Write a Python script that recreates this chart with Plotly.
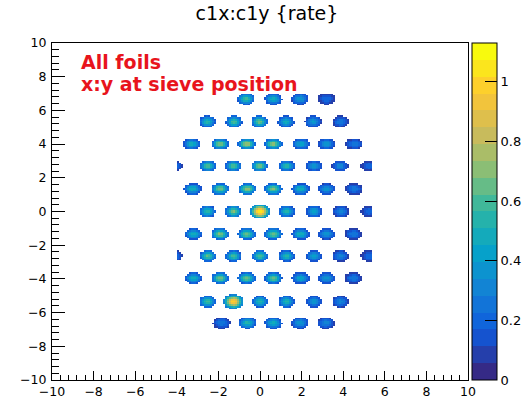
import numpy as np
import plotly.graph_objects as go

# ---- sieve-hole rate map: rows of holes (y) with hole x-centres and peak rate ----
row_y = [6.68, 5.33, 4.00, 2.70, 1.34, 0.00, -1.34, -2.64, -3.95, -5.35, -6.62]
row_x = [
    [-0.67, 0.64, 1.92, 3.20],
    [-2.53, -1.25, -0.03, 1.25, 2.56, 3.88],
    [-3.28, -1.92, -0.64, 0.64, 1.97, 3.20, 4.53],
    [-4.15, -2.51, -1.28, -0.03, 1.28, 2.60, 3.85, 5.25],
    [-3.24, -1.92, -0.61, 0.64, 1.96, 3.20, 4.52],
    [-2.53, -1.28, 0.00, 1.28, 2.60, 3.88, 5.25],
    [-3.20, -1.92, -0.64, 0.64, 1.96, 3.20, 4.49],
    [-4.15, -2.51, -1.28, 0.00, 1.28, 2.60, 3.88, 5.25],
    [-3.20, -1.92, -0.64, 0.64, 1.96, 3.20, 4.49],
    [-2.53, -1.28, 0.00, 1.28, 2.60, 3.88],
    [-1.84, -0.61, 0.64, 1.92, 3.17],
]
row_rate = [
    [0.60, 0.50, 0.40, 0.22],
    [0.55, 0.62, 0.68, 0.50, 0.40, 0.28],
    [0.50, 0.68, 0.75, 0.70, 0.45, 0.38, 0.28],
    [0.30, 0.62, 0.62, 0.68, 0.55, 0.40, 0.32, 0.22],
    [0.50, 0.68, 0.72, 0.68, 0.50, 0.38, 0.28],
    [0.58, 0.72, 1.10, 0.55, 0.45, 0.32, 0.22],
    [0.50, 0.70, 0.66, 0.66, 0.50, 0.38, 0.28],
    [0.30, 0.64, 0.60, 0.62, 0.55, 0.44, 0.32, 0.22],
    [0.50, 0.66, 0.66, 0.64, 0.45, 0.38, 0.28],
    [0.62, 1.00, 0.55, 0.55, 0.40, 0.32],
    [0.28, 0.55, 0.50, 0.40, 0.32],
]
colorbar_ticks = [0, 0.2, 0.4, 0.6, 0.8, 1]
axis_ticks = list(range(-10, 11, 2))

# ---- histogram binning and spot shape ----
nbins = 200
edges = np.linspace(-10, 10, nbins + 1)
centres = 0.5 * (edges[:-1] + edges[1:])
sig_x, sig_y, thr = 0.25, 0.21, 0.25
x_cut = (-4.0, 5.4)

X, Y = np.meshgrid(centres, centres)
Z = np.zeros_like(X)
for y0, xs, rs in zip(row_y, row_x, row_rate):
    for x0, r in zip(xs, rs):
        scale = 1.25 if r > 0.9 else 1.0
        g = np.exp(-((X - x0) ** 2 / (2 * (sig_x * scale) ** 2)
                     + (Y - y0) ** 2 / (2 * (sig_y * scale) ** 2)))
        Z = np.where(g >= thr, np.maximum(Z, r * g), Z)
Z[(X < x_cut[0]) | (X > x_cut[1])] = 0
z_list = [[(float(v) if v > 0 else None) for v in row] for row in Z]

# ---- ROOT kBird palette, 20 discrete contour bands ----
stops = [0.0, 0.125, 0.25, 0.375, 0.5, 0.625, 0.75, 0.875, 1.0]
red = [0.2082, 0.0592, 0.0780, 0.0232, 0.1802, 0.5301, 0.8186, 0.9956, 0.9764]
green = [0.1664, 0.3599, 0.5041, 0.6419, 0.7178, 0.7492, 0.7328, 0.7862, 0.9832]
blue = [0.5293, 0.8684, 0.8385, 0.7914, 0.6425, 0.4662, 0.3499, 0.1968, 0.0539]


def bird(f):
    r = np.interp(f, stops, red)
    g = np.interp(f, stops, green)
    b = np.interp(f, stops, blue)
    return f"rgb({int(r * 255)},{int(g * 255)},{int(b * 255)})"


nband = 20
cscale = []
for i in range(nband):
    c = bird(i / (nband - 1))
    cscale.append([i / nband, c])
    cscale.append([(i + 1) / nband, c])

zmax = 1.13
font = "DejaVu Sans"

fig = go.Figure(
    go.Heatmap(
        x=centres,
        y=centres,
        z=z_list,
        zmin=0,
        zmax=zmax,
        colorscale=cscale,
        hoverongaps=False,
        colorbar=dict(
            x=(472 - 52) / 416,
            xanchor="left",
            xpad=0,
            y=0.5,
            ypad=0,
            len=1,
            thickness=25,
            outlinecolor="black",
            outlinewidth=1,
            tickvals=colorbar_ticks,
            ticktext=[f"{v:g}" for v in colorbar_ticks],
            ticks="inside",
            ticklen=12,
            tickcolor="black",
            tickfont=dict(family=font, size=13, color="black"),
        ),
    )
)

axis_common = dict(
    range=[-10, 10],
    tickvals=axis_ticks,
    ticks="inside",
    tickcolor="black",
    showline=True,
    linecolor="black",
    linewidth=1,
    mirror=True,
    showgrid=False,
    zeroline=False,
    tickfont=dict(family=font, size=12.5, color="black"),
)

fig.update_xaxes(
    **axis_common,
    ticklen=9,
    ticklabelstandoff=0,
    minor=dict(dtick=0.4, tick0=-10, ticks="inside", ticklen=5, tickcolor="black"),
)
fig.update_yaxes(
    **axis_common,
    ticklen=13,
    ticklabelstandoff=2,
    minor=dict(dtick=0.4, tick0=-10, ticks="inside", ticklen=7, tickcolor="black"),
)

fig.add_annotation(
    x=-8.7, y=8.87, xref="x", yref="y", xanchor="left", yanchor="middle",
    text="<b>All foils</b>", showarrow=False,
    font=dict(family=font, size=19, color="#e8141c"),
)
fig.add_annotation(
    x=-8.7, y=7.57, xref="x", yref="y", xanchor="left", yanchor="middle",
    text="<b>x:y at sieve position</b>", showarrow=False,
    font=dict(family=font, size=19, color="#e8141c"),
)

fig.update_layout(
    width=530,
    height=398,
    margin=dict(l=52, r=62, t=43, b=18, autoexpand=False),
    paper_bgcolor="white",
    plot_bgcolor="white",
    showlegend=False,
    title=dict(
        text="c1x:c1y {rate}",
        x=267 / 530,
        xanchor="center",
        y=1 - 13 / 398,
        yanchor="middle",
        font=dict(family=font, size=19, color="black"),
    ),
)

fig.write_html("out.html")
